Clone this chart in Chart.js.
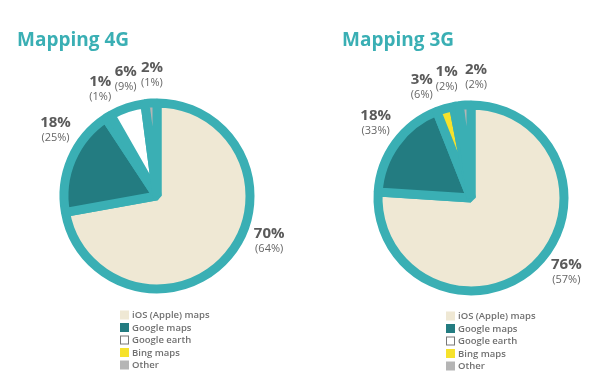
<!DOCTYPE html>
<html>
<head>
<meta charset="utf-8">
<script src="https://cdn.jsdelivr.net/npm/chart.js@4.4.1/dist/chart.umd.min.js"></script>
<style>
    body { margin: 0; background: #fff; }
    #wrap { display: flex; width: 600px; height: 391px; }
    .box { width: 300px; height: 391px; }
</style>
</head>
<body>
<div id="wrap">
    <div class="box"><canvas id="chart4g" width="300" height="391"></canvas></div>
    <div class="box"><canvas id="chart3g" width="300" height="391"></canvas></div>
</div>
<script>
// slices go clockwise from 12 o'clock in this order
const apps = ['iOS (Apple) maps', 'Google maps', 'Bing maps', 'Google earth', 'Other'];
// the legend lists them in another order
const legendOrder = ['iOS (Apple) maps', 'Google maps', 'Google earth', 'Bing maps', 'Other'];

const share4G = [70, 18, 1, 6, 2];
const paren4G = [64, 25, 1, 9, 1];

const share3G = [76, 18, 3, 1, 2];
const paren3G = [57, 33, 6, 2, 2];

const sliceColors = ['#efe8d4', '#237c81', '#f6e22c', '#ffffff', '#b5b5b5'];
const ringColor = '#3aafb4';


// ............................   labels + legend   ............................

const pieLabels = {
    id: 'pieLabels',
    afterDraw(chart, args, opts) {
        const ctx = chart.ctx;
        const meta = chart.getDatasetMeta(0);
        const values = chart.data.datasets[0].data;
        ctx.save();
        ctx.textAlign = 'center';
        ctx.textBaseline = 'middle';

        meta.data.forEach((arc, i) => {
            const p = arc.getProps(['x', 'y', 'startAngle', 'endAngle', 'outerRadius'], true);
            let a = (p.startAngle + p.endAngle) / 2;
            // small slices sit close together, so their labels get spread out by hand
            if (opts.angles && opts.angles[i] !== undefined) {
                a = opts.angles[i] * Math.PI / 180 - Math.PI / 2;
            }
            const r = p.outerRadius + opts.gap;
            const x = p.x + Math.cos(a) * r;
            const y = p.y + Math.sin(a) * r;

            ctx.fillStyle = '#5a5a5a';
            ctx.font = 'bold 15px "Open Sans"';
            ctx.fillText(values[i] + '%', x, y - 7.5);
            ctx.fillStyle = '#666';
            ctx.font = '11px "Open Sans"';
            ctx.fillText('(' + opts.paren[i] + '%)', x, y + 7.5);
        });

        // legend
        ctx.textAlign = 'left';
        ctx.font = '600 9.5px "Open Sans"';
        legendOrder.forEach((name, k) => {
            const i = apps.indexOf(name);
            const y = opts.legendY + k * 12.5;
            ctx.fillStyle = sliceColors[i];
            ctx.fillRect(opts.legendX, y - 4.5, 9, 9);
            if (sliceColors[i] === '#ffffff') {
                ctx.strokeStyle = '#777';
                ctx.lineWidth = 1;
                ctx.strokeRect(opts.legendX + 0.5, y - 4, 8, 8);
            }
            ctx.fillStyle = '#707070';
            ctx.fillText(name, opts.legendX + 12, y + 0.5);
        });
        ctx.restore();
    }
};


function makePie(id, title, values, paren, pad, extra) {
    return new Chart(document.getElementById(id), {
        type: 'pie',
        data: {
            labels: apps,
            datasets: [{
                data: values,
                backgroundColor: sliceColors,
                borderColor: ringColor,
                borderWidth: 9,
                borderAlign: 'center'
            }]
        },
        options: {
            responsive: false,
            animation: false,
            radius: 93,
            layout: { padding: pad },
            plugins: {
                legend: { display: false },
                tooltip: { enabled: false },
                title: {
                    display: true,
                    text: title,
                    align: 'start',
                    color: '#3aafb4',
                    font: { family: '"Open Sans"', size: 19, weight: 'bold' },
                    padding: { top: 29, bottom: 10 }
                },
                pieLabels: Object.assign({ paren: paren, gap: 28 }, extra)
            }
        },
        plugins: [pieLabels]
    });
}

makePie('chart4g', 'Mapping 4G', share4G, paren4G,
    { left: 17, right: 3, top: 0, bottom: 61 },
    { angles: { 0: 112, 1: 303, 2: 332, 3: 345, 4: 357.6 }, legendX: 120, legendY: 315 });

makePie('chart3g', 'Mapping 3G', share3G, paren3G,
    { left: 42, right: 0, top: 0, bottom: 57 },
    { angles: { 0: 128, 1: 308, 2: 336, 3: 348.4, 4: 2.4 }, legendX: 146, legendY: 316 });
</script>
</body>
</html>
